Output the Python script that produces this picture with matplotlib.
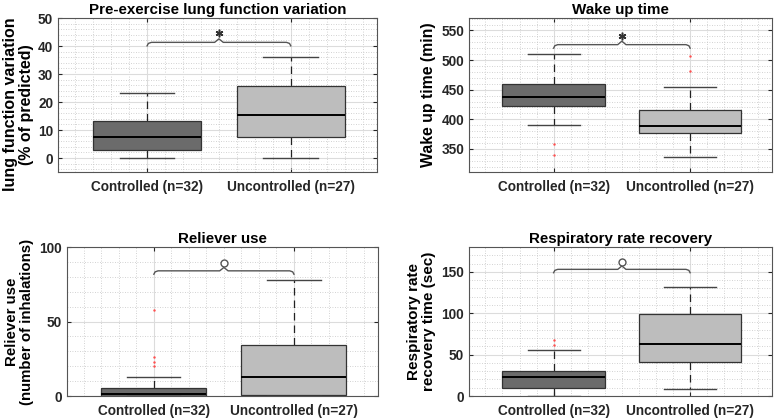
import numpy as np
import matplotlib
matplotlib.use('Agg')
import matplotlib.pyplot as plt
from matplotlib.ticker import MultipleLocator

plt.rcParams['font.family'] = ['Liberation Sans', 'DejaVu Sans']
plt.rcParams['font.weight'] = 'bold'

# Data
groups = ['Controlled (n=32)', 'Uncontrolled (n=27)']
titles = ['Pre-exercise lung function variation', 'Wake up time',
          'Reliever use', 'Respiratory rate recovery']
ylabels = ['lung function variation\n(% of predicted)', 'Wake up time (min)',
           'Reliever use\n(number of inhalations)', 'Respiratory rate\nrecovery time (sec)']

# per panel: [controlled, uncontrolled] as (whislo, q1, med, q3, whishi)
lung_stats = [(0, 2.7, 7.6, 13.1, 23.3), (0, 7.6, 15.4, 25.8, 36.2)]
wake_stats = [(390, 422, 438, 460, 510), (336, 376, 388, 416, 454)]
reliever_stats = [(0, 0, 1.3, 5.6, 12.9), (0, 1.0, 13, 34, 78)]
resp_stats = [(0, 9.6, 22.5, 30.6, 55), (8, 41, 63, 98.6, 132)]

lung_fliers = [[], []]
wake_fliers = [[358, 339], [507, 482]]
reliever_fliers = [[58, 26, 23, 20], []]
resp_fliers = [[68, 62], []]

sig_y = [41.3, 526, 84, 153]
sig_mark = ['*', '*', 'o', 'o']

ylims = [(-5, 50), (311, 571), (0, 100), (0, 180)]
ymajor = [10, 50, 50, 50]
yminor = [2, 10, 10, 10]

all_stats = [lung_stats, wake_stats, reliever_stats, resp_stats]
all_fliers = [lung_fliers, wake_fliers, reliever_fliers, resp_fliers]

box_colors = ['#6b6b6b', '#bdbdbd']
ylab_size = [11.5, 11.4, 10.8, 11]

fig = plt.figure(figsize=(7.78, 4.19), dpi=100)
W, H = 778, 419
rects = [(58, 18, 377, 172), (469, 18, 772, 172),
         (67, 247, 378, 396), (469, 247, 772, 396)]

for i in range(4):
    x0, y0, x1, y1 = rects[i]
    ax = fig.add_axes([x0 / W, 1 - y1 / H, (x1 - x0) / W, (y1 - y0) / H])
    stats = []
    for (lo, q1, med, q3, hi), fl in zip(all_stats[i], all_fliers[i]):
        stats.append(dict(whislo=lo, q1=q1, med=med, q3=q3, whishi=hi, fliers=fl))
    bp = ax.bxp(stats, positions=[1, 2], widths=0.75, capwidths=0.38,
                patch_artist=True, showfliers=True,
                boxprops=dict(edgecolor='#333333', linewidth=0.9),
                medianprops=dict(color='black', linewidth=1.4),
                whiskerprops=dict(color='#222222', linewidth=0.9, linestyle=(0, (6, 4))),
                capprops=dict(color='#444444', linewidth=1.0),
                flierprops=dict(marker='.', markersize=1.5, markerfacecolor='#ff5050',
                                markeredgecolor='#ff5050', linestyle='none'))
    for patch, c in zip(bp['boxes'], box_colors):
        patch.set_facecolor(c)
    for w in bp['whiskers']:
        w.set_zorder(1.5)

    ax.set_xlim(0.38, 2.6)
    ax.set_ylim(*ylims[i])
    ax.set_xticks([1, 2])
    ax.set_xticklabels(groups)
    ax.xaxis.set_minor_locator(MultipleLocator(0.125))
    ax.yaxis.set_major_locator(MultipleLocator(ymajor[i]))
    ax.yaxis.set_minor_locator(MultipleLocator(yminor[i]))
    ax.grid(True, which='major', color='#dcdcdc', linewidth=0.8, linestyle='-')
    ax.grid(True, which='minor', color='#c4c4c4', linewidth=0.6, linestyle=(0, (1, 2)))
    ax.set_axisbelow(True)
    ax.tick_params(which='major', direction='in', length=3, top=True, right=True,
                   labelsize=9.8, colors='#262626', width=0.8)
    ax.tick_params(axis='x', which='major', pad=6)
    ax.tick_params(which='minor', length=0, top=True, right=True)
    for s in ax.spines.values():
        s.set_color('#555555')
        s.set_linewidth(0.8)
    ax.set_title(titles[i], fontsize=10.9, fontweight='bold', pad=3)
    ax.set_ylabel(ylabels[i], fontsize=ylab_size[i], fontweight='bold', labelpad=4,
                  linespacing=1.1)
    if i == 0:
        ax.yaxis.set_label_coords(-0.075, 0.44)

    # significance brace
    span = ylims[i][1] - ylims[i][0]
    h = span * 3.5 / 154
    yb = sig_y[i]
    xa, xb, xm = 1.0, 2.0, 1.5
    d = 0.03
    bx = [xa, xa + d * 0.3, xa + d, xm - d, xm, xm + d, xb - d, xb - d * 0.3, xb]
    by = [yb - h, yb - h * 0.3, yb, yb, yb + h, yb, yb, yb - h * 0.3, yb - h]
    ax.plot(bx, by, color='#555555', linewidth=1.0, zorder=3)
    if sig_mark[i] == '*':
        ax.plot([xm], [yb + span * 9 / 154], marker=(6, 2, 0), markersize=5.5,
                color='#333333', markeredgewidth=1.1, zorder=3)
    else:
        ax.plot([xm], [yb + span * 8 / 154], marker='o', markersize=5,
                markerfacecolor='white', markeredgecolor='#555555',
                markeredgewidth=1.0, zorder=3)

fig.savefig('out.png', dpi=100)
